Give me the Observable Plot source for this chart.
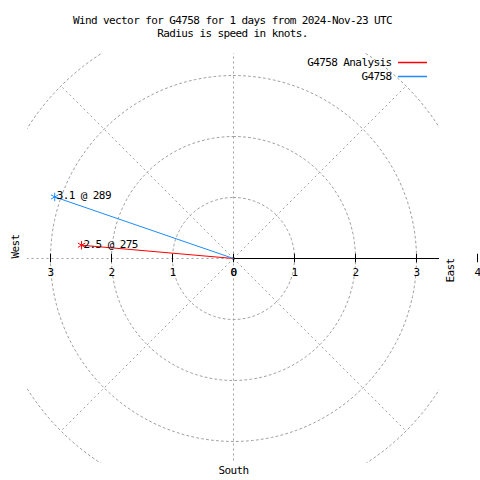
<!DOCTYPE html>
<html>
<head>
<meta charset="utf-8">
<script src="https://cdn.jsdelivr.net/npm/d3@7"></script>
<script src="https://cdn.jsdelivr.net/npm/@observablehq/plot@0.6"></script>
<style>
  html, body { margin: 0; padding: 0; background: #fff; }
  svg text { font-family: "DejaVu Sans Mono", monospace; letter-spacing: -0.6px; }
</style>
</head>
<body>
<div id="chart"></div>
<script>
// ---- data ----
const titleLine1 = "Wind vector for G4758 for 1 days from 2024-Nov-23 UTC";
const titleLine2 = "Radius is speed in knots.";
const seriesNames = ["G4758 Analysis", "G4758"];
const seriesColors = ["#ff0000", "#1c8cff"];
const speeds = [2.5, 3.1];        // knots
const directions = [275, 289];    // degrees (compass)
const rings = [1, 2, 3, 4];
const spokes = [0, 45, 135, 180, 225, 270, 315];
const axisTicks = [-3, -2, -1, 0, 1, 2, 3, 4];
const axisTickLabels = ["3", "2", "1", "0", "0", "1", "2", "3", "4"];
const axisLabelPositions = [-3, -2, -1, 0, 0, 1, 2, 3, 4];
const rMax = 3.377;
const yMax = 3.361;
const pxPerUnit = 61;

// ---- helpers ----
const toXY = (r, deg) => {
  const a = (90 - deg) * Math.PI / 180;
  return [r * Math.cos(a), r * Math.sin(a)];
};
const ringPts = rings.flatMap(r => d3.range(0, 361, 2).map(deg => {
  const [x, y] = toXY(r, deg); return {ring: r, x, y};
}));
const spokeSegs = spokes.map(deg => {
  const [x, y] = toXY(4, deg); return {x1: 0, y1: 0, x2: x, y2: y};
});
const vectors = speeds.map((s, i) => {
  const [x, y] = toXY(s, directions[i]);
  return {name: seriesNames[i], color: seriesColors[i], x, y,
          label: `${s.toFixed(1)} @ ${directions[i]}`};
});

const grid = "#a0a0a0";
const fs = 11;

const legendMarks = seriesNames.flatMap((name, i) => {
  const off = 9 + 14 * i;
  return [
    Plot.text([name], {frameAnchor: "top-right", lineAnchor: "middle", textAnchor: "end",
      dx: -48, dy: off, fill: "black", fontSize: fs}),
    Plot.ruleY([yMax - off / pxPerUnit], {x1: rMax - 41 / pxPerUnit, x2: rMax - 12 / pxPerUnit,
      stroke: seriesColors[i], strokeWidth: 1.5})
  ];
});

const chart = Plot.plot({
  width: 480,
  height: 480,
  marginLeft: 27,
  marginRight: 41,
  marginTop: 53,
  marginBottom: 17,
  x: {domain: [-rMax, rMax], axis: null},
  y: {domain: [-yMax, yMax], axis: null},
  style: {fontFamily: "DejaVu Sans Mono", fontSize: fs + "px", background: "#fff", overflow: "visible"},
  marks: [
    // grid circles
    Plot.line(ringPts, {x: "x", y: "y", z: "ring", stroke: grid, strokeWidth: 1,
      strokeDasharray: "2,3", clip: "frame", curve: "linear"}),
    // spokes
    Plot.link(spokeSegs, {x1: "x1", y1: "y1", x2: "x2", y2: "y2", stroke: grid,
      strokeWidth: 1, strokeDasharray: "2,3", clip: "frame"}),
    // east axis line
    Plot.ruleY([0], {x1: 0, x2: rMax, stroke: "black", strokeWidth: 1}),
    // axis ticks
    Plot.ruleX(axisTicks, {y1: -0.07, y2: 0.07, stroke: "black", strokeWidth: 1}),
    // tick labels
    Plot.text(axisLabelPositions, {x: d => d, y: 0, text: (d, i) => axisTickLabels[i],
      dy: 14, fill: "black", fontSize: fs}),
    // compass labels
    Plot.text(["West"], {frameAnchor: "left", dx: -12, rotate: -90, fill: "black", fontSize: fs}),
    Plot.text(["East"], {frameAnchor: "right", dx: 11, rotate: -90, fill: "black", fontSize: fs}),
    Plot.text(["South"], {frameAnchor: "bottom", lineAnchor: "middle", dy: 7, fill: "black", fontSize: fs}),
    // title
    Plot.text([titleLine1], {frameAnchor: "top", lineAnchor: "middle", dx: -1, dy: -33,
      fill: "black", fontSize: fs}),
    Plot.text([titleLine2], {frameAnchor: "top", lineAnchor: "middle", dx: -1, dy: -20,
      fill: "black", fontSize: fs}),
    // vectors
    Plot.link(vectors, {x1: 0, y1: 0, x2: "x", y2: "y", stroke: "color", strokeWidth: 1}),
    Plot.dot(vectors, {x: "x", y: "y", symbol: "asterisk", r: 4, stroke: "color", strokeWidth: 1}),
    Plot.text(vectors, {x: "x", y: "y", text: "label", textAnchor: "start", dx: 2, dy: -1,
      fill: "black", fontSize: fs}),
    // legend
    ...legendMarks
  ]
});
document.getElementById("chart").appendChild(chart);
</script>
</body>
</html>
